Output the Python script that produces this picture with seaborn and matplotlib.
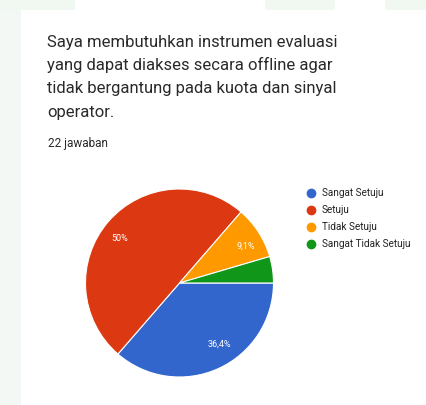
import matplotlib
matplotlib.use("Agg")
import matplotlib.pyplot as plt
import seaborn as sns
from matplotlib.patches import Rectangle

categories = ["Sangat Setuju", "Setuju", "Tidak Setuju", "Sangat Tidak Setuju"]
counts = [8, 11, 2, 1]
pct_labels = ["36,4%", "50%", "9,1%", ""]
colors = ["#3366cc", "#dc3912", "#ff9900", "#109618"]
title_lines = [
    "Saya membutuhkan instrumen evaluasi",
    "yang dapat diakses secara offline agar",
    "tidak bergantung pada kuota dan sinyal",
    "operator.",
]
subtitle = "22 jawaban"

sns.set_theme(style="white")
plt.rcParams["font.family"] = ["Roboto", "DejaVu Sans"]

W, H = 427, 405
fig = plt.figure(figsize=(W / 100, H / 100), dpi=100)
fig.patch.set_facecolor("white")

# background frame
bg = fig.add_axes([0, 0, 1, 1])
bg.set_xlim(0, W)
bg.set_ylim(H, 0)
bg.axis("off")
bg.add_patch(Rectangle((0, 0), 21, H, color="#f4f8f4", lw=0))
bg.add_patch(Rectangle((0, 0), 75, 10, color="#f1f7f1", lw=0))
bg.add_patch(Rectangle((265, 0), 70, 10, color="#f1f7f1", lw=0))
bg.add_patch(Rectangle((385, 0), 42, 10, color="#f1f7f1", lw=0))

ys = [42, 65, 88, 112]
for y, t in zip(ys, title_lines):
    bg.text(47, y, t, fontsize=12, color="#2a2a2a", va="center", ha="left")
bg.text(48, 143, subtitle, fontsize=8.5, color="#2a2a2a", va="center", ha="left")

# pie
cx, cy, r = 179.5, 283, 94
ax = fig.add_axes([(cx - r) / W, (H - cy - r) / H, 2 * r / W, 2 * r / H])
wedges, texts = ax.pie(
    counts,
    colors=colors,
    startangle=0,
    counterclock=False,
    wedgeprops=dict(edgecolor="white", linewidth=0.8),
    labels=pct_labels,
    labeldistance=0.72,
    textprops=dict(color="white", fontsize=6.5),
)
ax.set_xlim(-1, 1)
ax.set_ylim(-1, 1)
ax.set_aspect("equal")
ax.axis("off")

# legend
leg_y = [193, 210, 227, 244]
for y, c, lab in zip(leg_y, colors, categories):
    bg.plot(311, y, "o", color=c, markersize=6)
    bg.text(322, y, lab, fontsize=7.2, color="#222222", va="center", ha="left")

fig.savefig("out.png", dpi=100)
